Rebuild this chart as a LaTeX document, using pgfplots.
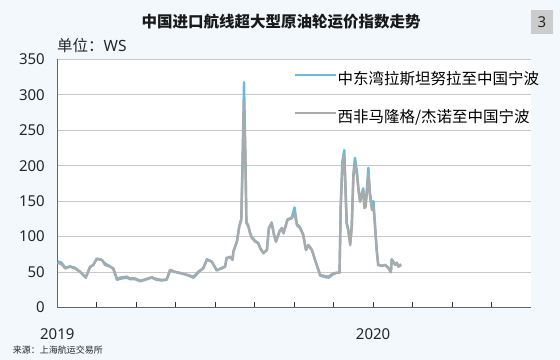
\documentclass[border=0pt]{standalone}
\usepackage{pgfplots}
\pgfplotsset{compat=1.18}
\usepackage{pgfplotstable}
\usepackage{fontspec}
\setmainfont{Noto Sans CJK SC}
\newfontfamily\latinf{Noto Sans}
\definecolor{bgc}{RGB}{242,248,252}
\definecolor{blueS}{RGB}{108,185,223}
\definecolor{grayS}{RGB}{170,170,170}
\definecolor{gridc}{RGB}{200,200,200}
\definecolor{axc}{RGB}{100,100,100}
\definecolor{boxc}{RGB}{204,204,204}
\newcommand\fs{\fontsize{15.5bp}{18bp}\selectfont}

\pgfplotstableread{
x blue gray
0.01 65 63
0.11 63 61
0.20 56 55
0.32 58 57.5
0.45 56 55
0.58 50 50.5
0.72 42 42.6
0.83 57 57.5
0.91 60 60
1.00 69 68.4
1.13 67 67
1.21 62 60
1.34 58 57.5
1.42 54 55.2
1.51 39 41
1.63 41 42.6
1.76 42 43.5
1.84 40 41
1.97 40 41
2.10 37 37.8
2.22 39 39.8
2.39 42 42.6
2.52 39 40.2
2.65 38 38.8
2.77 39 39.8
2.86 53 52.9
2.98 50 50.5
3.15 48 48.2
3.32 45 45.8
3.45 42 43.5
3.57 49 50.5
3.70 56 55.3
3.79 68 67
3.91 65 64.6
4.04 52 53
4.17 56 55
4.25 58 57.5
4.29 70 69.4
4.38 71 71.7
4.44 68 67
4.46 79 78.7
4.55 93 92.8
4.61 115 114
4.66 125 123
4.69 200 190
4.73 318 290
4.77 200 190
4.79 121 119
4.84 115 114
4.88 106 105
4.93 99 98
5.01 94 93
5.09 91 90.5
5.14 84 83.5
5.22 77 76.4
5.31 81 81
5.36 112 111.7
5.43 120 118.7
5.49 103 102
5.54 93 92.8
5.63 108 107
5.69 112 111.7
5.73 105 104.6
5.83 124 123.4
5.94 127 125.8
6.01 141 133
6.07 118 116
6.15 113 111.7
6.23 103 102
6.30 81 81
6.36 88 88
6.45 81 81
6.53 67 67
6.66 45 45.8
6.78 43 44.4
6.87 42 43.5
6.99 47 48.2
7.08 49 49
7.15 49 49
7.18 145 140
7.22 205 196
7.27 222 214
7.31 155 150
7.33 120 118.7
7.37 110 109
7.42 90 88
7.46 116 114
7.50 188 183
7.54 211 203
7.59 192 188
7.63 167 165
7.67 150 149
7.71 160 158
7.75 168 165
7.78 142 140
7.81 145 142
7.84 165 160
7.88 197 188
7.92 162 158
7.97 142 137.5
8.01 150 142
8.05 115 114
8.09 82 81
8.13 60 60
8.22 59 58.5
8.30 60 60
8.39 56 55.3
8.45 50 49.6
8.47 68 67
8.51 65 64.6
8.56 60 60
8.60 63 63
8.64 58 57.5
8.71 61 60
}\datatable

\begin{document}
\begin{tikzpicture}
\fill[bgc] (0,0) rectangle (560bp,360bp);
\begin{axis}[
  at={(57.3bp,52.5bp)}, anchor=south west,
  width=473.7bp, height=248.2bp, scale only axis,
  xmin=0, xmax=12, ymin=0, ymax=350,
  axis x line*=bottom, axis y line*=left,
  axis line style={axc, line width=1.2bp},
  axis background/.style={fill=white},
  xtick={1,...,11},
  xticklabels={{},{},{},{},{},{},{},2020,{},{},{}},
  extra x ticks={0}, extra x tick labels={2019},
  extra x tick style={major tick length=0pt},
  ytick={0,50,...,350},
  ytick style={draw=none},
  xtick style={black!80, line width=0.9bp},
  tick align=inside, major tick length=5bp,
  ymajorgrids, grid style={gridc, line width=1bp},
  /pgf/number format/assume math mode=true,
  tick label style={font=\latinf\fontsize{15bp}{18bp}\selectfont, text=black!85},
  xticklabel style={yshift=-18bp},
  yticklabel style={xshift=-9bp},
  legend style={at={(rel axis cs:0.4997,0.951)}, anchor=north west, draw=none, fill=none,
     font=\fs, row sep=23bp, inner sep=0pt, nodes={inner sep=0pt},
     /tikz/every even column/.append style={column sep=5bp}},
  legend cell align=left,
  legend image code/.code={\draw[#1, line width=2.4bp] (0bp,0.38em) -- (41bp,0.38em);},
]
\addplot[blueS, line width=2.4bp, line join=round] table[x=x, y=blue] {\datatable};
\addlegendentry{中东湾拉斯坦努拉至中国宁波}
\addplot[grayS, line width=2.4bp, line join=round] table[x=x, y=gray] {\datatable};
\addlegendentry{西非马隆格/杰诺至中国宁波}
\end{axis}
\node[font=\fs\bfseries, text=black!90] at (281bp,338bp) {中国进口航线超大型原油轮运价指数走势};
\fill[boxc] (531bp,326bp) rectangle (553bp,350bp);
\node[font=\latinf\fontsize{15bp}{18bp}\selectfont, text=black!85] at (542bp,338bp) {3};
\node[anchor=west, inner sep=0pt, font=\fs, text=black!85] at (57bp,314bp) {单位：{\latinf WS}};
\node[anchor=west, inner sep=0pt, font=\fontsize{9bp}{11bp}\selectfont, text=black!85] at (12.6bp,10bp) {来源：上海航运交易所};
\pgfresetboundingbox
\useasboundingbox (0,0) rectangle (560bp,360bp);
\end{tikzpicture}
\end{document}
